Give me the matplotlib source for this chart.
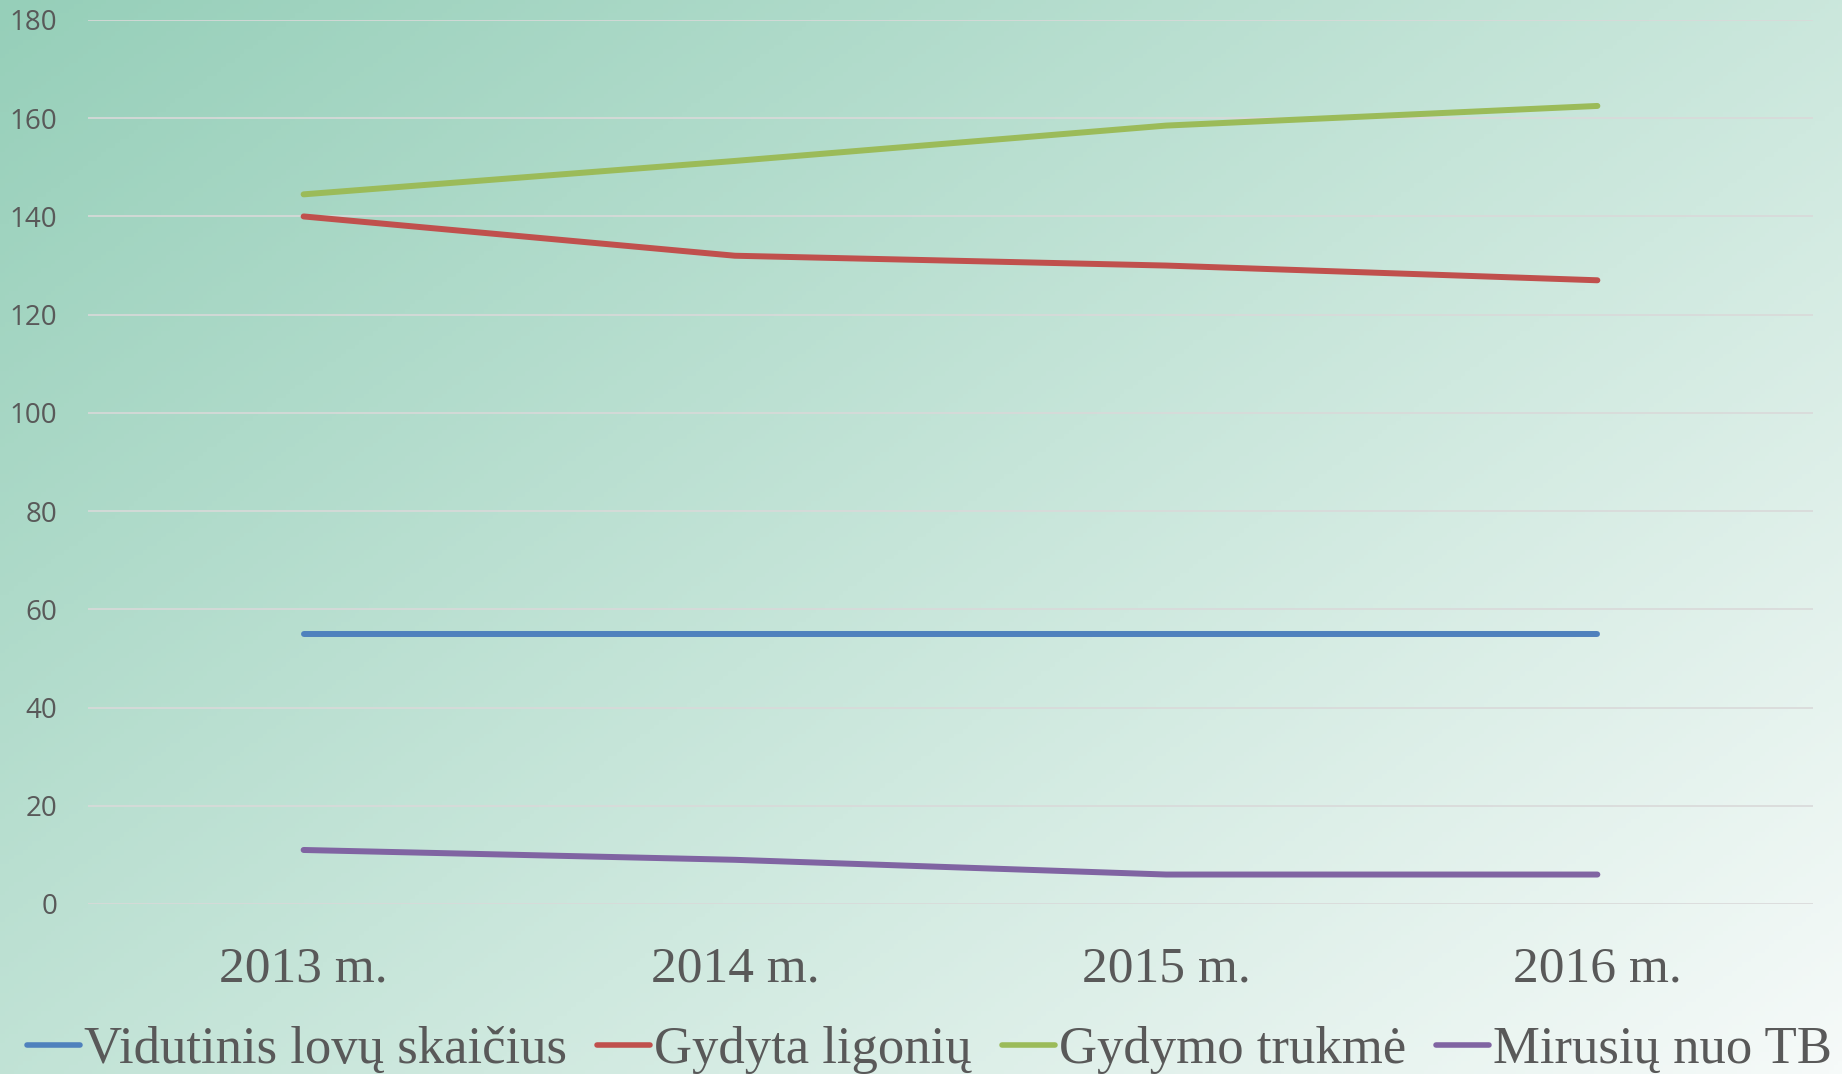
import numpy as np
import matplotlib
matplotlib.use("Agg")
import matplotlib.pyplot as plt
from matplotlib.colors import LinearSegmentedColormap

# ------------------ data ------------------
years = ["2013 m.", "2014 m.", "2015 m.", "2016 m."]
lovos = [55, 55, 55, 55]              # Vidutinis lovų skaičius
gydyta = [140, 132, 130, 127]         # Gydyta ligonių
trukme = [144.5, 151.3, 158.5, 162.5] # Gydymo trukmė
mirusiu = [11, 9, 6, 6]               # Mirusių nuo TB

series_names = ["Vidutinis lovų skaičius", "Gydyta ligonių", "Gydymo trukmė", "Mirusių nuo TB"]
series_vals = [lovos, gydyta, trukme, mirusiu]
series_cols = ["#4F81BD", "#C0504D", "#9BBB59", "#8064A2"]
y_ticks = [0, 20, 40, 60, 80, 100, 120, 140, 160, 180]
# ------------------------------------------

W, H = 1842, 1074
fig = plt.figure(figsize=(W / 100, H / 100), dpi=100)

# diagonal gradient background (teal top-left -> near white bottom-right)
bg = fig.add_axes([0, 0, 1, 1], zorder=-10)
gx, gy = np.meshgrid(np.linspace(0, 1, 400), np.linspace(0, 1, 240))
t = (gx * 0.55 + gy * 0.45)
cmap = LinearSegmentedColormap.from_list("bg", ["#96CFB9", "#C6E5D9", "#F6FAF9"])
bg.imshow(t, cmap=cmap, aspect="auto", extent=[0, 1, 0, 1], origin="upper")
bg.axis("off")

ax = fig.add_axes([88 / W, 1 - 904 / H, 1725 / W, 884 / H])
ax.patch.set_alpha(0)
x = np.arange(len(years))
for name, vals, col in zip(series_names, series_vals, series_cols):
    ax.plot(x, vals, color=col, lw=4.3, solid_capstyle="round", solid_joinstyle="round", label=name)

ax.set_xlim(-0.5, len(years) - 0.5)
ax.set_ylim(0, 180)
ax.set_yticks(y_ticks)
ax.set_xticks(x)
ax.set_xticklabels(years, family="Liberation Serif", fontsize=37, color="#595959")
ax.tick_params(axis="x", length=0, pad=30)
ax.tick_params(axis="y", length=0, pad=22, labelsize=20, labelcolor="#595959")
for lab in ax.get_yticklabels():
    lab.set_family("Open Sans")
ax.grid(axis="y", color="#D9D9D9", lw=1.2)
ax.set_axisbelow(True)
for s in ax.spines.values():
    s.set_visible(False)

handles, labels = ax.get_legend_handles_labels()
leg = fig.legend(handles, labels, loc="center", bbox_to_anchor=(0.5048, 1 - 1050 / H), ncol=4,
                 frameon=False, prop={"family": "Liberation Serif", "size": 38},
                 handlelength=1.0, handletextpad=0.08, columnspacing=0.57, borderaxespad=0)
for txt in leg.get_texts():
    txt.set_color("#595959")
for ln in leg.get_lines():
    ln.set_linewidth(4)

fig.savefig("out.png", dpi=100)
